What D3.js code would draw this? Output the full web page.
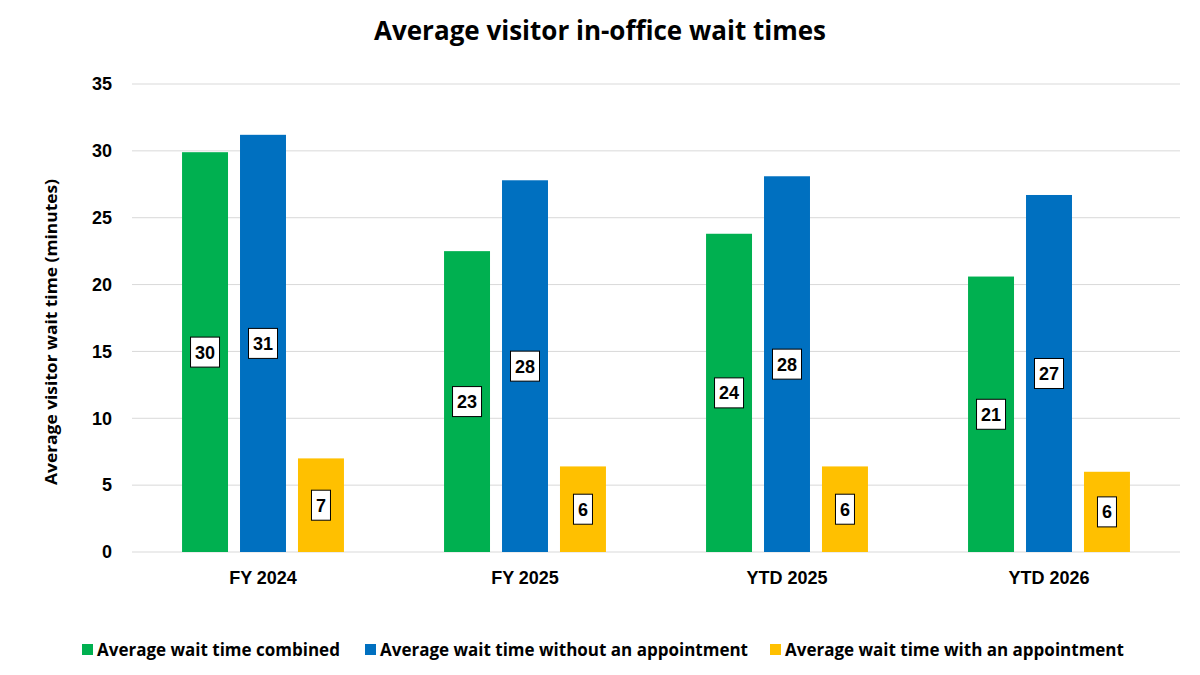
<!DOCTYPE html>
<html><head><meta charset="utf-8">
<script src="https://cdn.jsdelivr.net/npm/d3@7"></script>
<style>body{margin:0;background:#fff}svg{display:block}</style>
</head><body><svg id="c" width="1200" height="675"></svg>
<script>
const categories = ["FY 2024", "FY 2025", "YTD 2025", "YTD 2026"];
const seriesNames = ["Average wait time combined", "Average wait time without an appointment", "Average wait time with an appointment"];
const combined = [29.9, 22.5, 23.8, 20.6];
const withoutAppt = [31.2, 27.8, 28.1, 26.7];
const withAppt = [7.0, 6.4, 6.4, 6.0];
const yTicks = [0, 5, 10, 15, 20, 25, 30, 35];
const colors = ["#00B050", "#0070C0", "#FFC000"];

(function () {
const series = [combined, withoutAppt, withAppt];
const svg = d3.select("#c");
const pLeft = 132, pRight = 1180, pTop = 84, pBottom = 552;
const font = "Liberation Sans, Arial, sans-serif";

const y = d3.scaleLinear().domain([0, 35]).range([pBottom, pTop]);
const x0 = d3.scaleBand().domain(categories).range([pLeft, pRight]).paddingInner(0.382).paddingOuter(0.191);
const x1 = d3.scaleBand().domain(d3.range(3)).range([0, x0.bandwidth()]).paddingInner(0.207).paddingOuter(0);

svg.append("text").attr("x", 600).attr("y", 40).attr("text-anchor", "middle")
  .attr("font-family", "Open Sans, sans-serif").attr("font-weight", "bold").attr("font-size", 26)
  .attr("fill", "#000").text("Average visitor in-office wait times");

svg.append("g").selectAll("line").data(yTicks).join("line")
  .attr("x1", pLeft).attr("x2", pRight).attr("y1", d => y(d)).attr("y2", d => y(d))
  .attr("stroke", "#d9d9d9").attr("stroke-width", 1);

const ya = svg.append("g").attr("transform", `translate(${pLeft},0)`)
  .call(d3.axisLeft(y).tickValues(yTicks).tickSize(0).tickPadding(20));
ya.select(".domain").remove();
ya.selectAll("text").attr("font-family", font).attr("font-weight", "bold")
  .attr("font-size", 18).attr("fill", "#000");

const xa = svg.append("g").attr("transform", `translate(0,${pBottom})`)
  .call(d3.axisBottom(x0).tickSize(0).tickPadding(19));
xa.select(".domain").remove();
xa.selectAll("text").attr("font-family", font).attr("font-weight", "bold")
  .attr("font-size", 18).attr("fill", "#000");

svg.append("text").attr("transform", `translate(57,332) rotate(-90)`)
  .attr("text-anchor", "middle").attr("font-family", "Open Sans, sans-serif")
  .attr("font-weight", "bold").attr("font-size", 16).attr("fill", "#000")
  .attr("textLength", 306).attr("lengthAdjust", "spacingAndGlyphs")
  .text("Average visitor wait time (minutes)");

const groups = svg.append("g").selectAll("g").data(categories).join("g")
  .attr("transform", d => `translate(${x0(d)},0)`);
groups.each(function (cat, ci) {
  const g = d3.select(this);
  series.forEach((s, si) => {
    const v = s[ci];
    const bx = x1(si), bw = x1.bandwidth();
    g.append("rect").attr("x", bx).attr("width", bw).attr("y", y(v)).attr("height", y(0) - y(v))
      .attr("fill", colors[si]);
    const label = String(Math.round(v));
    const cy = (y(v) + y(0)) / 2;
    const lw = label.length === 1 ? 19 : 29, lh = 30;
    g.append("rect").attr("x", bx + bw / 2 - lw / 2).attr("y", cy - lh / 2).attr("width", lw).attr("height", lh)
      .attr("fill", "#fff").attr("stroke", "#000").attr("stroke-width", 1);
    g.append("text").attr("x", bx + bw / 2).attr("y", cy + 6.5).attr("text-anchor", "middle")
      .attr("font-family", font).attr("font-weight", "bold")
      .attr("font-size", 18).attr("fill", "#000").text(label);
  });
});

const legendX = [82, 365, 770];
const lg = svg.append("g").selectAll("g").data(seriesNames).join("g")
  .attr("transform", (d, i) => `translate(${legendX[i]},650)`);
lg.append("rect").attr("x", 0).attr("y", -6).attr("width", 11).attr("height", 11).attr("fill", (d, i) => colors[i]);
lg.append("text").attr("x", 15).attr("y", 6).attr("font-family", "Open Sans, sans-serif")
  .attr("font-weight", "bold").attr("font-size", 17).attr("fill", "#000").text(d => d);
})();
</script></body></html>
